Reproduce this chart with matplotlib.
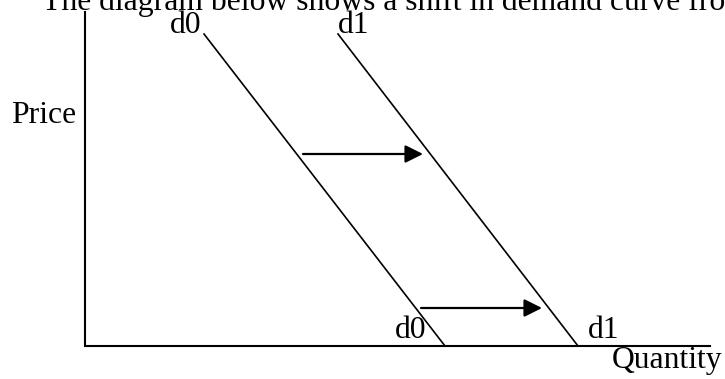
import matplotlib
matplotlib.use("Agg")
import matplotlib.pyplot as plt

plt.rcParams['font.family'] = ['Liberation Serif', 'DejaVu Serif']

# diagram coordinates (pixels, y down)
axis_x = [85, 85, 710]
axis_y = [12, 346, 346]

d0_x = [204, 445]
d0_y = [34, 346]
d1_x = [338, 578]
d1_y = [34, 346]

# shift arrows: (start x, end x, y)
arrows = [(303, 423, 154), (421, 542, 308)]

labels = [
    ("The diagram below shows a shift in demand curve from d0 to d1.", 42, 10),
    ("d0", 170, 33),
    ("d1", 338, 33),
    ("Price", 11, 123),
    ("d0", 395, 338),
    ("d1", 588, 338),
    ("Quantity", 612, 368),
]

fig = plt.figure(figsize=(7.25, 3.79), dpi=100)
ax = fig.add_axes([0, 0, 1, 1])
ax.set_xlim(0, 725)
ax.set_ylim(379, 0)
ax.axis('off')

ax.plot(axis_x, axis_y, color='black', linewidth=1.5, solid_joinstyle='miter')
ax.plot(d0_x, d0_y, color='black', linewidth=1.2)
ax.plot(d1_x, d1_y, color='black', linewidth=1.2)

for x0, x1, y in arrows:
    ax.annotate('', xy=(x1, y), xytext=(x0, y),
                arrowprops=dict(arrowstyle='-|>', color='black', lw=1.6,
                                mutation_scale=27, shrinkA=0, shrinkB=0))

for txt, x, y in labels:
    ax.text(x, y, txt, fontsize=22.8, va='baseline', ha='left', color='black')

fig.savefig('out.png', dpi=100)
